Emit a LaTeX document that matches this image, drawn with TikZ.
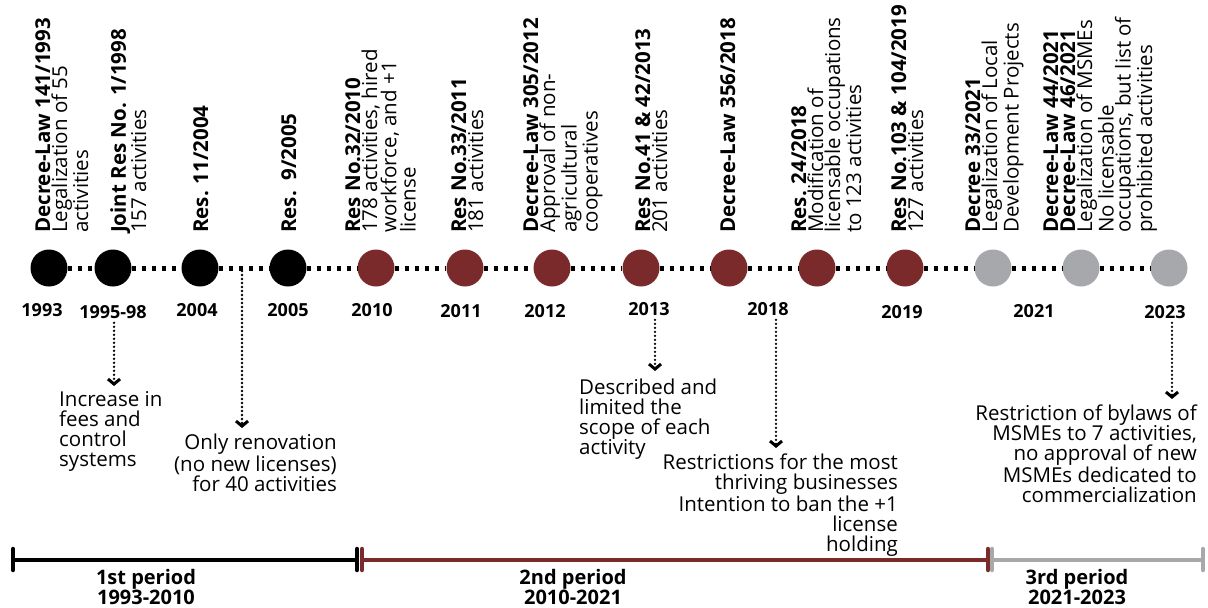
\documentclass[tikz,border=0pt]{standalone}
\usepackage{fontspec}
\setmainfont{Open Sans}
\usetikzlibrary{arrows.meta}
\definecolor{secondred}{HTML}{7A2A2A}
\definecolor{thirdgrey}{HTML}{A6A8AC}

\begin{document}
\begin{tikzpicture}[x=1pt,y=-1pt,
  event/.style={circle, minimum size=37pt, inner sep=0pt, fill=#1},
  yearlab/.style={inner sep=0pt, font=\fontsize{18}{18}\selectfont\bfseries},
  law/.style={rotate=90, anchor=north west, align=left, inner sep=0pt,
    font=\fontsize{20.5}{17}\selectfont},
  note/.style={inner sep=0pt, font=\fontsize{20.5}{20}\selectfont},
  link/.style={line width=5pt, dash pattern=on 4pt off 6pt},
  pointer/.style={line width=2.6pt, line cap=round, dash pattern=on 0pt off 4pt,
    -{Straight Barb[length=5pt,width=12pt,line width=3pt]}},
  bar/.style={line width=4.5pt},
  tick/.style={line width=4.5pt, line cap=round},
  periodlab/.style={anchor=north, align=center, inner sep=0pt,
    font=\fontsize{20}{17}\selectfont\bfseries}]

\useasboundingbox (0,0) rectangle (1208,608);

% ---- events on the timeline ----
\node[event=black]      (c1)  at (49,268)   {};
\node[event=black]      (c2)  at (113,268)  {};
\node[event=black]      (c3)  at (200,268)  {};
\node[event=black]      (c4)  at (288,268)  {};
\node[event=secondred]  (c5)  at (376,268)  {};
\node[event=secondred]  (c6)  at (465,268)  {};
\node[event=secondred]  (c7)  at (552,268)  {};
\node[event=secondred]  (c8)  at (641,268)  {};
\node[event=secondred]  (c9)  at (729,268)  {};
\node[event=secondred]  (c10) at (817,268)  {};
\node[event=secondred]  (c11) at (905,268)  {};
\node[event=thirdgrey]  (c12) at (993,268)  {};
\node[event=thirdgrey]  (c13) at (1081,268) {};
\node[event=thirdgrey]  (c14) at (1169,268) {};

\foreach \i/\j in {1/2,2/3,3/4,4/5,5/6,6/7,7/8,8/9,9/10,10/11,11/12,12/13,13/14}
  \draw[link] (c\i) -- (c\j);

% ---- years ----
\node[yearlab] (y1)  at (42,310)   {1993};
\node[yearlab] (y2)  at (113,312)  {1995-98};
\node[yearlab] (y3)  at (197,310)  {2004};
\node[yearlab] (y4)  at (288,310)  {2005};
\node[yearlab] (y5)  at (372,310)  {2010};
\node[yearlab] (y6)  at (461,311)  {2011};
\node[yearlab] (y7)  at (545,311)  {2012};
\node[yearlab] (y8)  at (649,309)  {2013};
\node[yearlab] (y9)  at (768,309)  {2018};
\node[yearlab] (y10) at (902,312)  {2019};
\node[yearlab] (y11) at (1034,311) {2021};
\node[yearlab] (y12) at (1165,312) {2023};

% ---- legal texts above the events ----
\node[law] (l1)  at (35,233)   {\textbf{Decree-Law 141/1993}\\Legalization of 55\\activities};
\node[law] (l2)  at (110,233)  {\textbf{Joint Res No. 1/1998}\\157 activities};
\node[law] (l3)  at (193,233)  {\textbf{Res. 11/2004}};
\node[law] (l4)  at (281,233)  {\textbf{Res.\ \ 9/2005}};
\node[law] (l5)  at (345,233)  {\textbf{Res No.32/2010}\\178 activities, hired\\workforce, and +1\\license};
\node[law] (l6)  at (451,233)  {\textbf{Res No.33/2011}\\181 activities};
\node[law] (l7)  at (523,233)  {\textbf{Decree-Law 305/2012}\\Approval of non-\\agricultural\\cooperatives};
\node[law] (l8)  at (635,233)  {\textbf{Res No.41 \& 42/2013}\\201 activities};
\node[law] (l9)  at (720,233)  {\textbf{Decree-Law 356/2018}};
\node[law] (l10) at (791,233)  {\textbf{Res. 24/2018}\\Modification of\\licensable occupations\\to 123 activities};
\node[law] (l11) at (891,233)  {\textbf{Res No.103 \& 104/2019}\\127 activities};
\node[law] (l12) at (965,233)  {\textbf{Decree 33/2021}\\Legalization of Local\\Development Projects};
\node[law] (l13) at (1043,233) {\textbf{Decree-Law 44/2021}\\\textbf{Decree-Law 46/2021}\\Legalization of MSMEs\\No licensable\\occupations, but list of\\prohibited activities};

% ---- consequences below the events ----
\node[note, anchor=north west, align=left]  (n1) at (59,391)   {Increase in\\fees and\\control\\systems};
\node[note, anchor=north east, align=right] (n2) at (337,434)  {Only renovation\\(no new licenses)\\for 40 activities};
\node[note, anchor=north west, align=left]  (n3) at (579,379)  {Described and\\limited the\\scope of each\\activity};
\node[note, anchor=north east, align=right] (n4) at (898,454)  {Restrictions for the most\\thriving businesses\\Intention to ban the +1\\license\\holding};
\node[note, anchor=north east, align=right] (n5) at (1197,405) {Restriction of bylaws of\\MSMEs to 7 activities,\\no approval of new\\MSMEs dedicated to\\commercialization};

\coordinate (s2) at (242,271);
\coordinate (t1) at (114,386);
\coordinate (t2) at (242,428);
\coordinate (t3) at (655,371);
\coordinate (t4) at (776,448);
\coordinate (t5) at (1172,399);

\draw[pointer] (t1 |- y2.south) ++(0,4) -- (t1);
\draw[pointer] (s2) -- (t2);
\draw[pointer] (t3 |- y8.south) ++(0,4) -- (t3);
\draw[pointer] (t4 |- y9.south) ++(0,4) -- (t4);
\draw[pointer] (t5 |- y12.south) ++(0,4) -- (t5);

% ---- periods ----
\coordinate (p1a) at (13,560);
\coordinate (p1b) at (357,560);
\coordinate (p2a) at (362,560);
\coordinate (p2b) at (988,560);
\coordinate (p3a) at (992,560);
\coordinate (p3b) at (1203,560);

\draw[bar, black]     (p1a) -- (p1b);
\draw[bar, secondred] (p2a) -- (p2b);
\draw[bar, thirdgrey] (p3a) -- (p3b);
\foreach \p/\c in {p1a/black,p1b/black,p2a/secondred,p2b/secondred,p3a/thirdgrey,p3b/thirdgrey}
  \draw[tick, \c] ([yshift=-10pt]\p) -- ([yshift=11pt]\p);

\node[periodlab] (per1) at (146,569)  {1st period\\1993-2010};
\node[periodlab] (per2) at (573,569)  {2nd period\\2010-2021};
\node[periodlab] (per3) at (1077,569) {3rd period\\2021-2023};
\end{tikzpicture}
\end{document}
